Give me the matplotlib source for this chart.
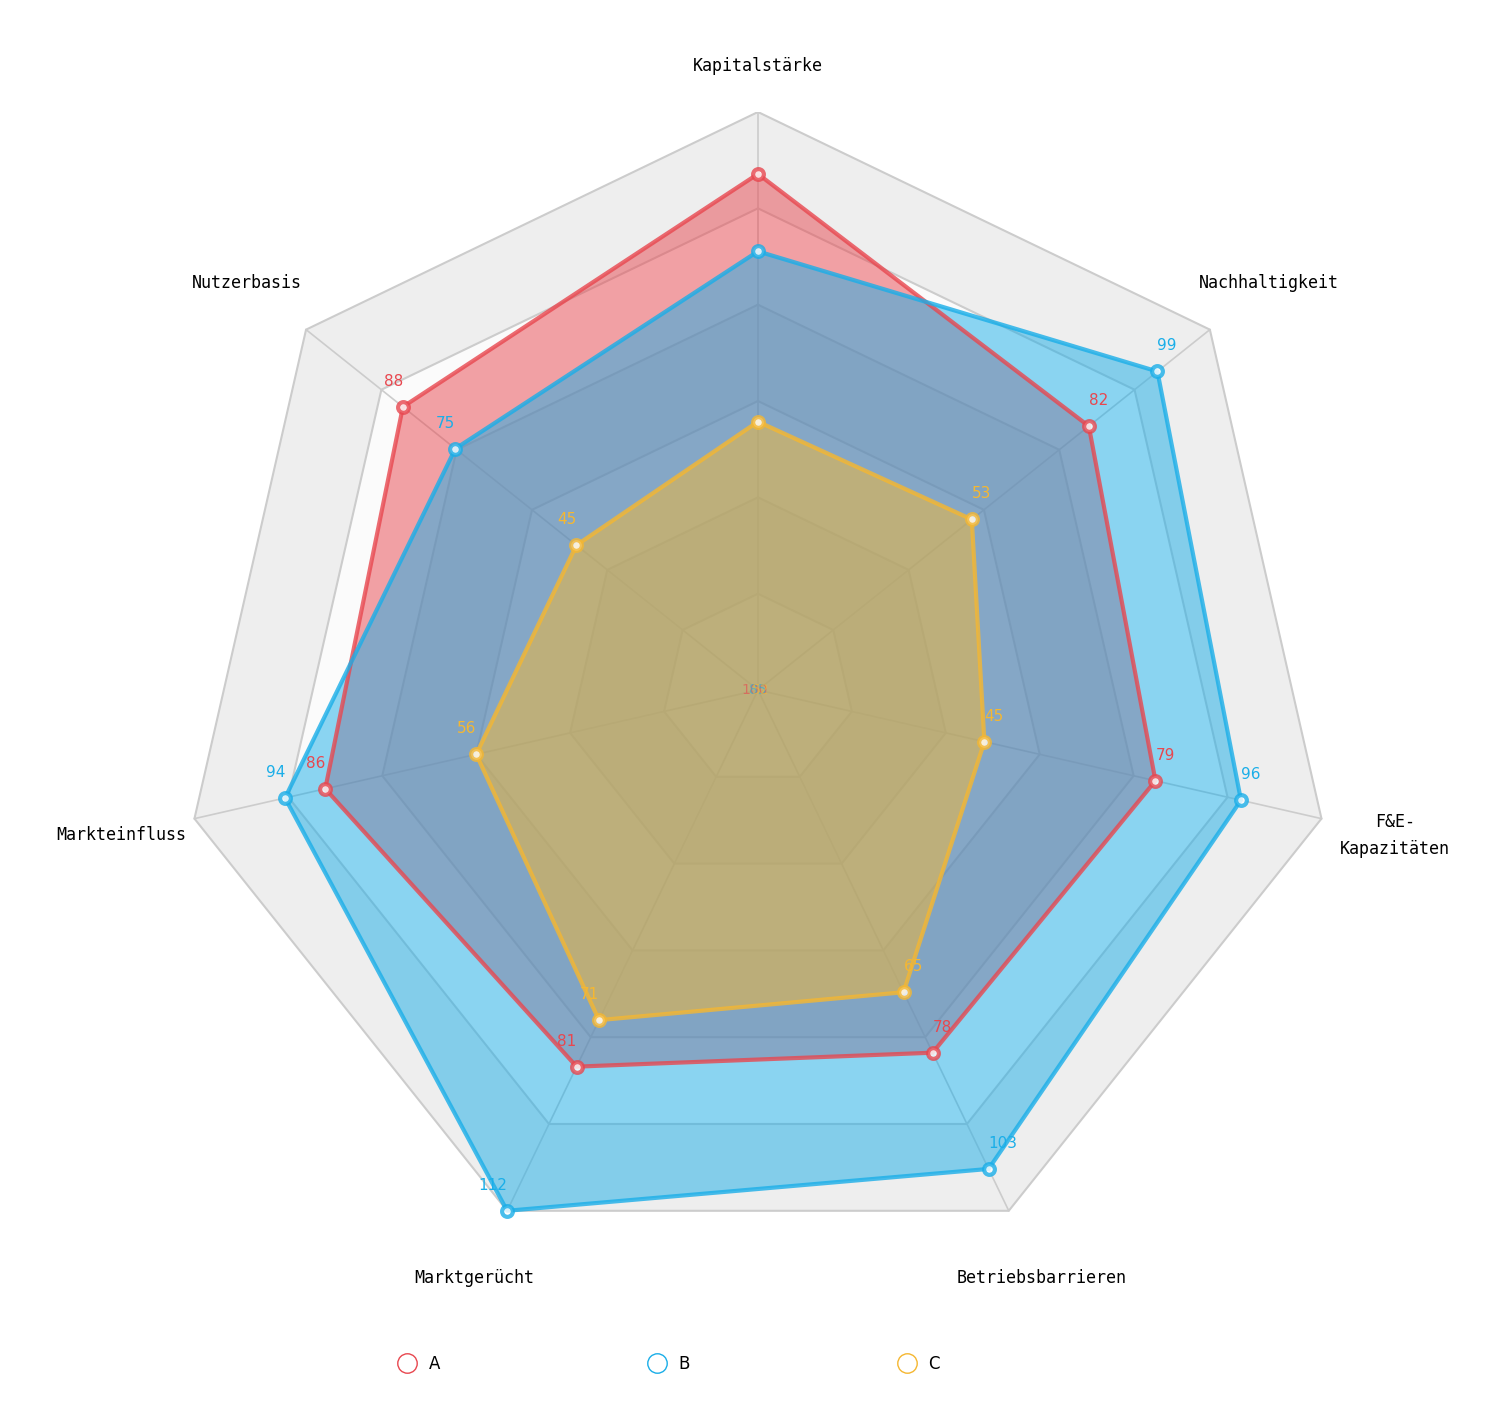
import numpy as np
import matplotlib
matplotlib.use("Agg")
import matplotlib.pyplot as plt

categories = ["Kapitalstärke", "Nachhaltigkeit", "F&E-\nKapazitäten", "Betriebsbarrieren",
              "Marktgerücht", "Markteinfluss", "Nutzerbasis"]
series_names = ["A", "B", "C"]
values_A = [100, 82, 79, 78, 81, 86, 88]
values_B = [85, 99, 96, 103, 112, 94, 75]
values_C = [52, 53, 45, 65, 71, 56, 45]
colors = ["#e8474f", "#1aaee8", "#f5b731"]
rmax = 112

n = len(categories)
ang = np.pi/2 - np.arange(n) * 2*np.pi/n  # clockwise from top

fig = plt.figure(figsize=(15.12, 14.16), dpi=100)
ax = fig.add_axes([0.119, 0.1045, 0.7646, 0.8164])
ax.set_xlim(-rmax, rmax); ax.set_ylim(-rmax, rmax)
ax.set_aspect('equal'); ax.axis('off')

def poly(r):
    r = np.asarray(r, float)
    x = r*np.cos(ang); y = r*np.sin(ang)
    return np.append(x, x[0]), np.append(y, y[0])

rings = 6
for i in range(rings, 0, -1):
    x, y = poly([rmax*i/rings]*n)
    ax.fill(x, y, color="#eeeeee" if i % 2 == 0 else "#fbfbfb", zorder=0, lw=0)
for i in range(1, rings+1):
    x, y = poly([rmax*i/rings]*n)
    ax.plot(x, y, color="#cccccc", lw=1.5, zorder=1)
for a in ang:
    ax.plot([0, rmax*np.cos(a)], [0, rmax*np.sin(a)], color="#cccccc", lw=1.2, zorder=1)

for j, (vals, c, name) in enumerate(zip([values_A, values_B, values_C], colors, series_names)):
    x, y = poly(vals)
    ax.fill(x, y, color=c, alpha=0.5, zorder=2, lw=0)
    ax.plot(x, y, color=c, lw=3, alpha=0.8, zorder=3, label=name)
    ax.scatter(x[:-1], y[:-1], s=60, facecolor="white", edgecolor=c, lw=3, zorder=4, alpha=0.8)
    for k in range(1, n):
        ax.text(x[k], y[k]+3.5, str(vals[k]), color=c, fontsize=11,
                ha="right" if np.cos(ang[k]) < -0.1 else ("left" if np.cos(ang[k]) > 0.1 else "center"),
                va="bottom", zorder=5)
    ax.text((j-1)*0.6, 0, str(vals[0]), color=c, fontsize=10, ha="center", va="center", zorder=5, alpha=0.6)

for k, (a, cat) in enumerate(zip(ang, categories)):
    r = rmax*(1.08 if k == 0 else 1.13)
    ax.text(r*np.cos(a), r*np.sin(a), cat, fontsize=12, family="DejaVu Sans Mono",
            ha="center", va="center", linespacing=1.6, multialignment="center")

fig.legend(handles=[plt.Line2D([], [], marker='o', ls='', markersize=14, markerfacecolor='white',
                               markeredgecolor=c, label=s) for c, s in zip(colors, series_names)],
           loc="center", bbox_to_anchor=(0.44, 0.037), ncol=3, frameon=False, fontsize=12,
           columnspacing=12, handletextpad=0.3)

fig.savefig("out.png", dpi=100)
